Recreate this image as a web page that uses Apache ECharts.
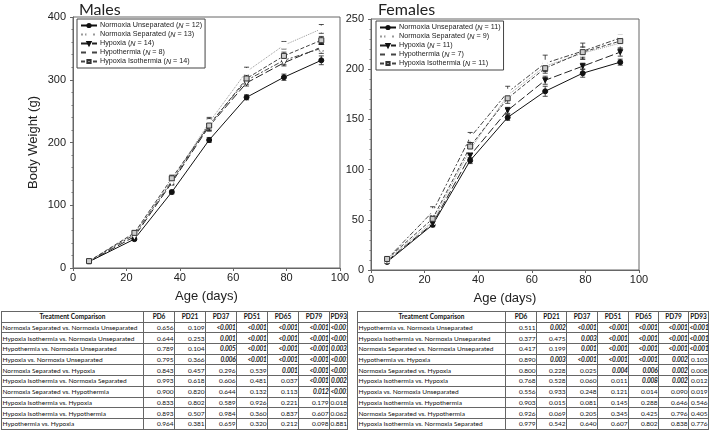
<!DOCTYPE html>
<html><head><meta charset="utf-8">
<script src="https://cdn.jsdelivr.net/npm/echarts@6/dist/echarts.min.js"></script>
<style>
body{margin:0;background:#fff;width:709px;height:430px;overflow:hidden;position:relative;}
#chart{position:absolute;left:0;top:0;width:709px;height:430px;}
table{position:absolute;border-collapse:collapse;font-family:Lato,'Open Sans',sans-serif;font-size:6.5px;color:#111;table-layout:fixed;background:#fff;border:1.5px solid #333;}
td,th{border:1px solid #666;padding:0 0.5px;height:9.7px;line-height:9px;white-space:nowrap;overflow:hidden;}
th{font-weight:bold;text-align:center;}
td{text-align:right;}
td.name{text-align:left;}
td.sig{font-weight:bold;font-style:italic;letter-spacing:-0.25px;}
</style></head>
<body>
<div id="chart"></div>
<table id="tm" style="left:1px;top:311px;width:346px;"></table>
<table id="tf" style="left:357px;top:311px;width:351px;"></table>
<script>
// ---------- data ----------
const ages = [6, 23, 37, 51, 65, 79, 93];
const groupNames = ['Normoxia Unseparated', 'Normoxia Separated', 'Hypoxia', 'Hypothermia', 'Hypoxia Isothermia'];
const maleN = [12, 13, 14, 8, 14];
const femaleN = [11, 9, 11, 7, 11];

// Males body weight (g) means and SEM
const maleNU = [10, 46, 121, 204, 272, 304, 331];
const maleNS = [11, 55, 140, 232, 313, 355, 381];
const maleHyp = [10, 50, 136, 226, 295, 327, 352];
const maleHth = [11, 53, 138, 229, 299, 331, 350];
const maleHI = [11, 56, 143, 227, 302, 338, 363];
const maleNUErr = [1, 2, 3, 4, 4, 5, 7];
const maleNSErr = [1, 3, 5, 8, 7, 6, 7];
const maleHypErr = [1, 3, 4, 7, 5, 5, 6];
const maleHthErr = [1, 3, 5, 9, 6, 7, 8];
const maleHIErr = [1, 3, 5, 9, 6, 6, 6];

// Females
const femNU = [8, 45, 109, 152, 178, 196, 207];
const femNS = [10, 48, 120, 174, 203, 216, 226];
const femHyp = [9, 46, 114, 159, 189, 203, 217];
const femHth = [11, 58, 132, 177, 206, 218, 231];
const femHI = [11, 51, 123, 171, 201, 217, 228];
const femNUErr = [1, 2, 3, 3, 5, 4, 3];
const femNSErr = [1, 3, 4, 5, 5, 6, 5];
const femHypErr = [1, 2, 3, 3, 4, 3, 4];
const femHthErr = [1, 5, 5, 6, 8, 8, 3];
const femHIErr = [1, 3, 4, 5, 5, 5, 4];

// Tables
const tableCols = ['Treatment Comparison', 'PD6', 'PD21', 'PD37', 'PD51', 'PD65', 'PD79', 'PD93'];
const maleComparisons = [
  'Normoxia Separated vs. Normoxia Unseparated',
  'Hypoxia Isothermia vs. Normoxia Unseparated',
  'Hypothermia vs. Normoxia Unseparated',
  'Hypoxia vs. Normoxia Unseparated',
  'Normoxia Separated vs. Hypoxia',
  'Hypoxia Isothermia vs. Normoxia Separated',
  'Normoxia Separated vs. Hypothermia',
  'Hypoxia Isothermia vs. Hypoxia',
  'Hypoxia Isothermia vs. Hypothermia',
  'Hypothermia vs. Hypoxia'
];
const maleP = [
  ['0.656', '0.109', '<0.001', '<0.001', '<0.001', '<0.001', '<0.001'],
  ['0.644', '0.253', '0.001', '<0.001', '<0.001', '<0.001', '<0.001'],
  ['0.789', '0.104', '0.005', '<0.001', '<0.001', '<0.001', '0.003'],
  ['0.795', '0.366', '0.006', '<0.001', '<0.001', '<0.001', '<0.001'],
  ['0.843', '0.457', '0.296', '0.539', '0.001', '<0.001', '<0.001'],
  ['0.993', '0.618', '0.606', '0.481', '0.037', '<0.001', '0.002'],
  ['0.900', '0.820', '0.644', '0.132', '0.113', '0.012', '<0.001'],
  ['0.833', '0.802', '0.589', '0.926', '0.221', '0.179', '0.018'],
  ['0.893', '0.507', '0.984', '0.360', '0.837', '0.607', '0.062'],
  ['0.964', '0.381', '0.659', '0.320', '0.212', '0.098', '0.881']
];
const maleSig = [
  [0, 0, 1, 1, 1, 1, 1],
  [0, 0, 1, 1, 1, 1, 1],
  [0, 0, 1, 1, 1, 1, 1],
  [0, 0, 1, 1, 1, 1, 1],
  [0, 0, 0, 0, 1, 1, 1],
  [0, 0, 0, 0, 0, 1, 1],
  [0, 0, 0, 0, 0, 1, 1],
  [0, 0, 0, 0, 0, 0, 0],
  [0, 0, 0, 0, 0, 0, 0],
  [0, 0, 0, 0, 0, 0, 0]
];
const femComparisons = [
  'Hypothermia vs. Normoxia Unseparated',
  'Hypoxia Isothermia vs. Normoxia Unseparated',
  'Normoxia Separated vs. Normoxia Unseparated',
  'Hypothermia vs. Hypoxia',
  'Normoxia Separated vs. Hypoxia',
  'Hypoxia Isothermia vs. Hypoxia',
  'Hypoxia vs. Normoxia Unseparated',
  'Hypoxia Isothermia vs. Hypothermia',
  'Normoxia Separated vs. Hypothermia',
  'Hypoxia Isothermia vs. Normoxia Separated'
];
const femP = [
  ['0.511', '0.002', '<0.001', '<0.001', '<0.001', '<0.001', '<0.001'],
  ['0.377', '0.475', '0.003', '<0.001', '<0.001', '<0.001', '<0.001'],
  ['0.417', '0.199', '0.001', '<0.001', '<0.001', '<0.001', '<0.001'],
  ['0.890', '0.003', '<0.001', '<0.001', '<0.001', '0.002', '0.103'],
  ['0.800', '0.228', '0.025', '0.004', '0.006', '0.002', '0.008'],
  ['0.768', '0.528', '0.060', '0.011', '0.008', '0.002', '0.012'],
  ['0.556', '0.933', '0.248', '0.121', '0.014', '0.090', '0.019'],
  ['0.903', '0.015', '0.081', '0.145', '0.288', '0.646', '0.546'],
  ['0.926', '0.069', '0.205', '0.345', '0.425', '0.796', '0.405'],
  ['0.979', '0.542', '0.640', '0.607', '0.802', '0.838', '0.776']
];
const femSig = [
  [0, 1, 1, 1, 1, 1, 1],
  [0, 0, 1, 1, 1, 1, 1],
  [0, 0, 1, 1, 1, 1, 1],
  [0, 1, 1, 1, 1, 1, 0],
  [0, 0, 0, 1, 1, 1, 0],
  [0, 0, 0, 0, 1, 1, 0],
  [0, 0, 0, 0, 0, 0, 0],
  [0, 0, 0, 0, 0, 0, 0],
  [0, 0, 0, 0, 0, 0, 0],
  [0, 0, 0, 0, 0, 0, 0]
];

// ---------- tables ----------
function buildTable(id, comps, vals, sig, colW) {
  const t = document.getElementById(id);
  let html = '<colgroup>' + colW.map(w => '<col style="width:' + w + 'px">').join('') + '</colgroup>';
  html += '<tr>' + tableCols.map(c => '<th>' + c + '</th>').join('') + '</tr>';
  comps.forEach((c, i) => {
    html += '<tr><td class="name">' + c + '</td>' +
      vals[i].map((v, j) => '<td' + (sig[i][j] ? ' class="sig"' : '') + '>' + v.replace('<', '&lt;') + '</td>').join('') + '</tr>';
  });
  t.innerHTML = html;
}
buildTable('tm', maleComparisons, maleP, maleSig, [142, 31, 31, 31, 31, 31, 31, 18]);
buildTable('tf', femComparisons, femP, femSig, [148, 31, 30, 31, 31, 30, 30, 20]);

// ---------- chart ----------
const FONT = 'Liberation Sans, Arial, sans-serif';
const styles = [
  { symbol: 'circle', rotate: 0, color: '#111', fill: '#111', line: 'solid', lineColor: '#111' },
  { symbol: 'emptyCircle', rotate: 0, color: '#333', fill: '#fff', line: 'dotted', lineColor: '#999' },
  { symbol: 'triangle', rotate: 180, color: '#111', fill: '#111', line: [8, 3], lineColor: '#222' },
  { symbol: 'emptyTriangle', rotate: 180, color: '#333', fill: '#fff', line: [5, 2, 2, 2], lineColor: '#444' },
  { symbol: 'rect', rotate: 0, color: '#333', fill: '#ccc', line: [4, 2], lineColor: '#444' }
];

function lineSeries(name, means, idx, gridIdx) {
  const s = styles[idx];
  return {
    type: 'line', name: name, xAxisIndex: gridIdx, yAxisIndex: gridIdx,
    data: ages.map((a, i) => [a, means[i]]),
    symbol: s.symbol, symbolSize: 5, symbolRotate: s.rotate,
    itemStyle: { color: s.fill, borderColor: s.color, borderWidth: 1 },
    lineStyle: { color: s.lineColor, width: 1, type: s.line },
    z: 3, animation: false
  };
}
function errSeries(means, errs, gridIdx) {
  return {
    type: 'custom', xAxisIndex: gridIdx, yAxisIndex: gridIdx, silent: true, animation: false, z: 2,
    data: ages.map((a, i) => [a, means[i] - errs[i], means[i] + errs[i]]),
    renderItem: function (params, api) {
      const lo = api.coord([api.value(0), api.value(1)]);
      const hi = api.coord([api.value(0), api.value(2)]);
      const w = 2.5;
      const st = { stroke: '#222', lineWidth: 0.8 };
      return {
        type: 'group', children: [
          { type: 'line', shape: { x1: lo[0], y1: lo[1], x2: hi[0], y2: hi[1] }, style: st },
          { type: 'line', shape: { x1: lo[0] - w, y1: lo[1], x2: lo[0] + w, y2: lo[1] }, style: st },
          { type: 'line', shape: { x1: hi[0] - w, y1: hi[1], x2: hi[0] + w, y2: hi[1] }, style: st }
        ]
      };
    }
  };
}

const maleNames = groupNames.map((g, i) => g + ' (N = ' + maleN[i] + ')');
const femNames = groupNames.map((g, i) => g + ' (N = ' + femaleN[i] + ')');
const maleMeans = [maleNU, maleNS, maleHyp, maleHth, maleHI];
const maleErrs = [maleNUErr, maleNSErr, maleHypErr, maleHthErr, maleHIErr];
const femMeans = [femNU, femNS, femHyp, femHth, femHI];
const femErrs = [femNUErr, femNSErr, femHypErr, femHthErr, femHIErr];

const series = [];
maleMeans.forEach((m, i) => series.push(errSeries(m, maleErrs[i], 0)));
femMeans.forEach((m, i) => series.push(errSeries(m, femErrs[i], 1)));
maleMeans.forEach((m, i) => series.push(lineSeries(maleNames[i], m, i, 0)));
femMeans.forEach((m, i) => series.push(lineSeries(femNames[i], m, i, 1)));

function xAxisDef(gridIdx) {
  return {
    type: 'value', gridIndex: gridIdx, min: 0, max: 100, interval: 20,
    name: 'Age (days)', nameLocation: 'middle', nameGap: 22,
    nameTextStyle: { fontFamily: FONT, fontSize: 13, color: '#222' },
    axisLine: { show: true, lineStyle: { color: '#666', width: 1 } },
    axisTick: { show: true, length: 3, lineStyle: { color: '#666' } },
    axisLabel: { fontFamily: FONT, fontSize: 11, color: '#222', margin: 4 },
    splitLine: { show: false }
  };
}
function yAxisDef(gridIdx, max, interval, name) {
  return {
    type: 'value', gridIndex: gridIdx, min: 0, max: max, interval: interval,
    name: name, nameLocation: 'middle', nameGap: 33,
    nameTextStyle: { fontFamily: FONT, fontSize: 13, color: '#222' },
    axisLine: { show: true, lineStyle: { color: '#666', width: 1 } },
    axisTick: { show: true, length: 3, lineStyle: { color: '#666' } },
    minorTick: { show: true, splitNumber: 5, length: 1.5, lineStyle: { color: '#777' } },
    axisLabel: { fontFamily: FONT, fontSize: 11, color: '#222', margin: 7 },
    splitLine: { show: false }
  };
}
function legendDef(names, left, top) {
  return {
    data: names, left: left, top: top, orient: 'vertical',
    borderColor: '#444', borderWidth: 1, padding: [3, 3, 3, 3], itemGap: 2,
    itemWidth: 16, itemHeight: 4, selectedMode: false,
    formatter: function (n) { return n.replace('(N =', '({i|N} ='); },
    textStyle: { fontFamily: FONT, fontSize: 7.2, color: '#222', padding: [0, 0, 0, -2],
      rich: { i: { fontStyle: 'italic', fontFamily: FONT, fontSize: 7.2, color: '#222' } } }
  };
}

const chart = echarts.init(document.getElementById('chart'), null, { renderer: 'canvas' });
chart.setOption({
  animation: false,
  backgroundColor: 'transparent',
  title: [
    { text: 'Males', left: 74, top: -3, textStyle: { fontFamily: 'Lato, sans-serif', fontSize: 16, fontWeight: 'normal', color: '#222' } },
    { text: 'Females', left: 373, top: -3, textStyle: { fontFamily: 'Lato, sans-serif', fontSize: 16, fontWeight: 'normal', color: '#222' } }
  ],
  grid: [
    { left: 73, top: 17, width: 267, height: 251, show: true, borderColor: '#666', borderWidth: 1, backgroundColor: 'transparent' },
    { left: 371, top: 19, width: 268, height: 251, show: true, borderColor: '#666', borderWidth: 1, backgroundColor: 'transparent' }
  ],
  xAxis: [xAxisDef(0), xAxisDef(1)],
  yAxis: [yAxisDef(0, 400, 100, 'Body Weight (g)'), yAxisDef(1, 250, 50, '')],
  legend: [legendDef(maleNames, 77, 19), legendDef(femNames, 376, 21)],
  series: series
});
</script>
</body></html>
